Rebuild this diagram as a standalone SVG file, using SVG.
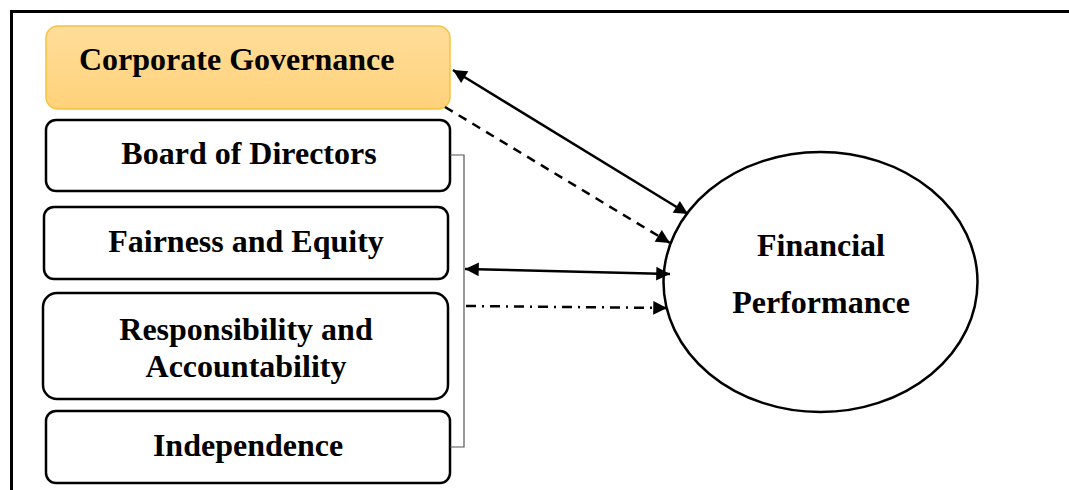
<svg xmlns="http://www.w3.org/2000/svg" width="1069" height="490" viewBox="0 0 1069 490">
  <style>
    .lbl { font-family: "Liberation Serif", "Times New Roman", serif; font-weight: bold; fill: #000; font-size: 32px; }
    .box { fill: #fff; stroke: #000; stroke-width: 2.5; }
    .conn { fill: none; stroke: #000; stroke-width: 2.5; }
  </style>
  <defs>
    <linearGradient id="cgFill" x1="0" y1="0" x2="0" y2="1">
      <stop offset="0" stop-color="#FFDD9A"/>
      <stop offset="1" stop-color="#FFD27A"/>
    </linearGradient>
    <marker id="arrowEnd" viewBox="0 0 10 10" refX="10" refY="5" markerWidth="7" markerHeight="5.5" markerUnits="strokeWidth" orient="auto">
      <path d="M0,0 L10,5 L0,10 Z" fill="#000"/>
    </marker>
    <marker id="arrowStart" viewBox="0 0 10 10" refX="0" refY="5" markerWidth="7" markerHeight="5.5" markerUnits="strokeWidth" orient="auto">
      <path d="M10,0 L0,5 L10,10 Z" fill="#000"/>
    </marker>
  </defs>

  <rect width="1069" height="490" fill="#fff"/>
  <!-- outer frame -->
  <path d="M11.5,490 V11.5 H1069" fill="none" stroke="#000" stroke-width="3"/>

  <g id="corporate-governance">
    <rect x="46" y="26" width="404" height="83" rx="12" fill="url(#cgFill)" stroke="#F5C242" stroke-width="1.5"/>
    <text class="lbl" x="79" y="70">Corporate Governance</text>
  </g>

  <g id="board-of-directors">
    <rect class="box" x="46" y="120" width="404" height="71" rx="10"/>
    <text class="lbl" x="249" y="164" text-anchor="middle">Board of Directors</text>
  </g>

  <g id="fairness-equity">
    <rect class="box" x="44" y="207" width="404" height="72" rx="10"/>
    <text class="lbl" x="246" y="252" text-anchor="middle">Fairness and Equity</text>
  </g>

  <g id="responsibility-accountability">
    <rect class="box" x="43" y="293" width="405" height="106" rx="14"/>
    <text class="lbl" x="246" y="340" text-anchor="middle">Responsibility and</text>
    <text class="lbl" x="246" y="377" text-anchor="middle">Accountability</text>
  </g>

  <g id="independence">
    <rect class="box" x="46" y="411" width="404" height="72" rx="10"/>
    <text class="lbl" x="248" y="456" text-anchor="middle">Independence</text>
  </g>

  <g id="financial-performance">
    <ellipse cx="820.5" cy="282" rx="157" ry="130" fill="#fff" stroke="#000" stroke-width="2.5"/>
    <text class="lbl" x="821" y="256" text-anchor="middle">Financial</text>
    <text class="lbl" x="821" y="313" text-anchor="middle">Performance</text>
  </g>

  <g id="connectors">
    <!-- bracket grouping the four dimensions -->
    <path d="M450,155 H464 V447 H450" fill="none" stroke="#555" stroke-width="1.2"/>
    <line class="conn" x1="453" y1="70" x2="688" y2="214" marker-start="url(#arrowStart)" marker-end="url(#arrowEnd)"/>
    <line class="conn" x1="445" y1="107" x2="670" y2="243" stroke-dasharray="9,7" marker-end="url(#arrowEnd)"/>
    <line class="conn" x1="465" y1="269" x2="670" y2="274" marker-start="url(#arrowStart)" marker-end="url(#arrowEnd)"/>
    <line class="conn" x1="466" y1="306" x2="667" y2="308" stroke-dasharray="10,6,2,6" marker-end="url(#arrowEnd)"/>
  </g>
</svg>
